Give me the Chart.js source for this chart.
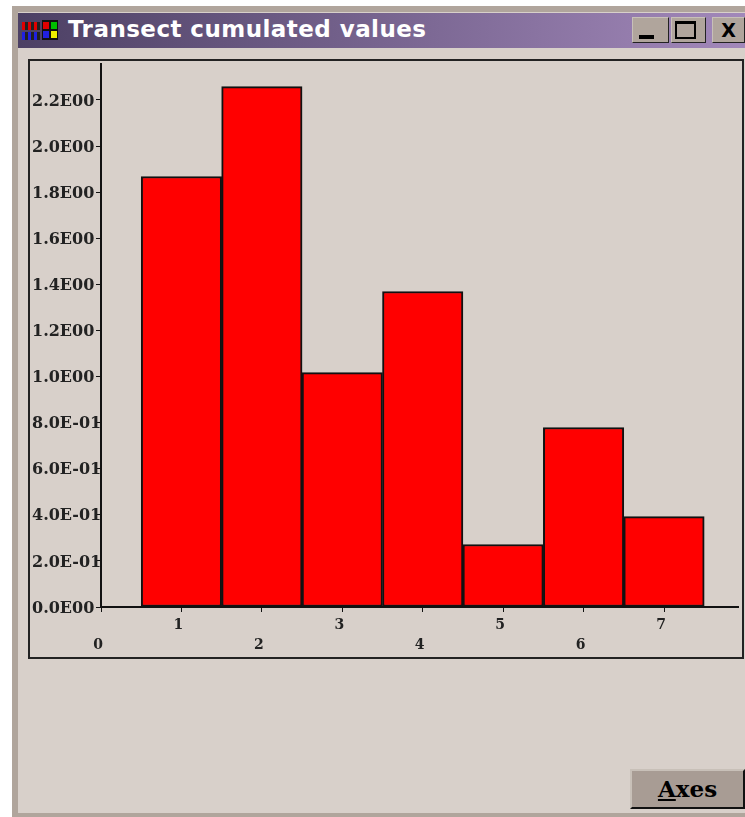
<!DOCTYPE html>
<html>
<head>
<meta charset="utf-8">
<title>Transect cumulated values</title>
<script src="https://cdn.jsdelivr.net/npm/chart.js@4"></script>
<style>
  html, body { margin: 0; padding: 0; background: #fff; }
  #win { position: absolute; left: 12px; top: 6px; width: 733px; height: 811px; background: #d8d0ca;
         border-left: 6px solid #b0a59c; border-top: 6px solid #b0a59c; border-bottom: 4px solid #b0a59c; box-sizing: border-box; }
  #titlebar { position: absolute; left: 18px; top: 13px; width: 727px; height: 35px;
              background: linear-gradient(to right, #4c4064, #a288ba); }
  #titletext { position: absolute; left: 68px; top: 16px; font: bold 23px "DejaVu Sans", sans-serif; letter-spacing: 0.45px; color: #fff; white-space: nowrap; }
  .icon { position: absolute; width: 6px; height: 7px; }
  .hatch { position: absolute; left: 22px; width: 18px; height: 8px; }
  .wbtn { position: absolute; top: 17px; height: 26px; background: #b0a59c; box-sizing: border-box;
          border: 1px solid; border-color: #c8c0b8 #222 #222 #c8c0b8; font: bold 19px "DejaVu Sans", sans-serif;
          color: #000; text-align: center; line-height: 24px; }
  #frame { position: absolute; left: 28px; top: 59px; width: 716px; height: 600px; box-sizing: border-box; border: 2px solid #222; }
  #axesbtn { position: absolute; left: 630px; top: 769px; width: 115px; height: 40px; box-sizing: border-box; background: #a89c94;
             border: 2px solid; border-color: #c8c0b8 #111 #111 #c8c0b8; font: bold 23px "DejaVu Serif", serif;
             text-align: center; line-height: 36px; color: #000; }
  #chart { position: absolute; left: 0; top: 0; }
</style>
</head>
<body>
<div id="win"></div>
<div id="titlebar"></div>
<div class="hatch" style="top:22px;background:repeating-linear-gradient(90deg,#e00000 0 3px,#222 3px 6px)"></div>
<div class="hatch" style="top:32px;background:repeating-linear-gradient(90deg,#2020e0 0 3px,#222 3px 6px)"></div>
<div style="position:absolute;left:42px;top:20px;width:16px;height:20px;background:#111"></div>
<div class="icon" style="left:43px;top:22px;background:#e00000"></div>
<div class="icon" style="left:51px;top:22px;background:#00c000"></div>
<div class="icon" style="left:43px;top:31px;background:#2020e0"></div>
<div class="icon" style="left:51px;top:31px;background:#f0f000"></div>
<div id="titletext">Transect cumulated values</div>
<div class="wbtn" style="left:632px;width:37px"><div style="position:absolute;left:6px;top:17px;width:15px;height:4px;background:#000"></div></div>
<div class="wbtn" style="left:671px;width:35px"><div style="position:absolute;left:3px;top:3px;width:21px;height:18px;box-sizing:border-box;border:2px solid #000;border-top-width:3px"></div></div>
<div class="wbtn" style="left:712px;width:33px">X</div>
<div id="frame"></div>
<div id="axesbtn"><u>A</u>xes</div>
<canvas id="chart" width="745" height="817"></canvas>

<script>
const categories = [1, 2, 3, 4, 5, 6, 7];
const values = [1.868, 2.258, 1.017, 1.369, 0.271, 0.779, 0.392];
const yTickValues = [0, 0.2, 0.4, 0.6, 0.8, 1.0, 1.2, 1.4, 1.6, 1.8, 2.0, 2.2];
const yTickLabels = ['0.0E00', '2.0E-01', '4.0E-01', '6.0E-01', '8.0E-01', '1.0E00', '1.2E00', '1.4E00', '1.6E00', '1.8E00', '2.0E00', '2.2E00'];
const xTickValues = [0, 1, 2, 3, 4, 5, 6, 7];

const yTickFont = { family: '"DejaVu Serif", serif', size: 16, weight: 'bold' };
const xTickFont = { family: '"DejaVu Serif", serif', size: 14, weight: 'bold', lineHeight: 20 / 14 };

new Chart(document.getElementById('chart').getContext('2d'), {
    type: 'bar',
    data: {
        datasets: [{
            label: 'Transect cumulated values',
            data: categories.map((c, i) => ({ x: c, y: values[i] })),
            backgroundColor: '#ff0000',
            borderColor: '#111111',
            borderWidth: 2,
            borderSkipped: false,
            barPercentage: 1,
            categoryPercentage: 1
        }]
    },
    options: {
        responsive: false,
        animation: false,
        layout: { padding: { left: 32, top: 64, right: 7, bottom: 150 } },
        plugins: { legend: { display: false }, tooltip: { enabled: false } },
        scales: {
            x: {
                type: 'linear',
                offset: false,
                min: 0,
                max: 7.92,
                afterBuildTicks: axis => { axis.ticks = xTickValues.map(v => ({ value: v })); },
                afterFit: axis => { axis.height = 60; },
                border: { color: '#111111', width: 2 },
                grid: { drawOnChartArea: false, offset: false, color: '#111111', tickLength: 5 },
                ticks: {
                    color: '#222222',
                    font: xTickFont,
                    padding: 3,
                    labelOffset: -3,
                    maxRotation: 0,
                    autoSkip: false,
                    // odd numbers on the first row, even ones on the second
                    callback: v => (v % 2 ? [String(v), ''] : ['', String(v)])
                }
            },
            y: {
                min: 0,
                max: 2.356,
                afterBuildTicks: axis => { axis.ticks = yTickValues.map(v => ({ value: v })); },
                afterFit: axis => { axis.width = 69; },
                border: { color: '#111111', width: 2 },
                grid: { drawOnChartArea: false, color: '#111111', tickLength: 5 },
                ticks: {
                    color: '#222222',
                    font: yTickFont,
                    padding: 0,
                    labelOffset: 1.5,
                    crossAlign: 'far',
                    autoSkip: false,
                    callback: (v, i) => yTickLabels[i]
                }
            }
        }
    }
});
</script>
</body>
</html>
